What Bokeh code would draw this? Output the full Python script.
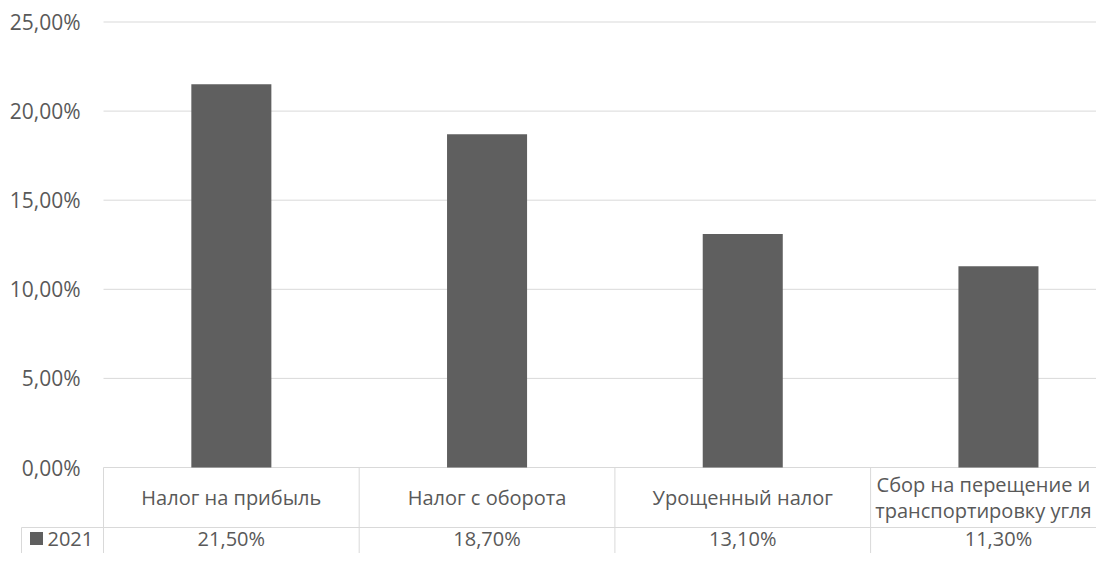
from bokeh.plotting import figure
from bokeh.models import Range1d, ColumnDataSource
from bokeh.core.properties import value
from bokeh.embed import file_html
from bokeh.resources import INLINE

# ---------------- data ----------------
categories = ["Налог на прибыль", "Налог с оборота", "Урощенный налог",
              "Сбор на перещение и\nтранспортировку угля"]
values_2021 = [21.5, 18.7, 13.1, 11.3]
series_name = "2021"
y_ticks = [0, 5, 10, 15, 20, 25]


def pct(v):
    return f"{v:.2f}".replace(".", ",") + "%"


# ---------------- layout (pixel geometry of the picture) ----------------
FONT = "Open Sans"
AX_FS = "21px"
TB_FS = "20px"
TXT = "#595959"
GRID = "#d9d9d9"
BAR = "#5f5f5f"

W, H = 1096, 553
PLOT_LEFT = 103.0     # px of the category axis start
PX_X = 255.7          # px per category
PX_Y = 17.82          # px per percent
ZERO_Y = 467.0        # px (from top) of the 0 % line


def dx(px):
    return (px - PLOT_LEFT) / PX_X


def dy(py):
    return (ZERO_Y - py) / PX_Y


x_start, x_end = dx(0), dx(W)
y_start, y_end = dy(H), dy(0)

p = figure(width=W, height=H, output_backend="svg", toolbar_location=None,
           x_range=Range1d(x_start, x_end), y_range=Range1d(y_start, y_end),
           min_border=0)
p.outline_line_color = None
p.background_fill_color = "white"
p.border_fill_color = "white"
p.axis.visible = False
p.grid.visible = False

n = len(categories)
xs = [i + 0.5 for i in range(n)]
src = ColumnDataSource(dict(x=xs, top=values_2021, cat=categories,
                            lab=[pct(v) for v in values_2021],
                            xoff=[0, 0, 0, -15]))

# horizontal gridlines (value axis)
p.segment(x0=[0] * len(y_ticks), x1=[x_end + 1] * len(y_ticks),
          y0=y_ticks, y1=y_ticks, line_color=GRID, line_width=1)
# value-axis labels
p.text(x=[dx(80)] * len(y_ticks), y=y_ticks, text=[pct(t) for t in y_ticks],
       text_align="right", text_baseline="middle", text_font=value(FONT),
       text_font_size=AX_FS, text_color=TXT)

# bars
p.vbar(x="x", top="top", bottom=0, width=0.313, source=src,
       fill_color=BAR, line_color=None)

# data table grid
row_sep = dy(527)
p.segment(x0=list(range(n)), y0=[0] * n, x1=list(range(n)),
          y1=[y_start - 1] * n, line_color=GRID, line_width=1)
p.segment(x0=[dx(21)], y0=[row_sep], x1=[x_end + 1], y1=[row_sep],
          line_color=GRID, line_width=1)
p.segment(x0=[dx(21)], y0=[row_sep], x1=[dx(21)], y1=[y_start - 1],
          line_color=GRID, line_width=1)

# table texts
p.text(x="x", y=dy(497), text="cat", source=src, x_offset="xoff",
       text_align="center", text_baseline="middle", text_font=value(FONT),
       text_font_size=TB_FS, text_color=TXT, text_line_height=0.95)
p.text(x="x", y=dy(538), text="lab", source=src, text_align="center",
       text_baseline="middle", text_font=value(FONT), text_font_size=TB_FS,
       text_color=TXT)

# legend cell of the data table
p.scatter(x=[dx(36)], y=[dy(538)], marker="square", size=13,
          fill_color=BAR, line_color=None)
p.text(x=[dx(47)], y=[dy(538)], text=[series_name], text_align="left",
       text_baseline="middle", text_font=value(FONT), text_font_size=TB_FS,
       text_color=TXT)

open("out.html", "w").write(file_html(p, INLINE))
